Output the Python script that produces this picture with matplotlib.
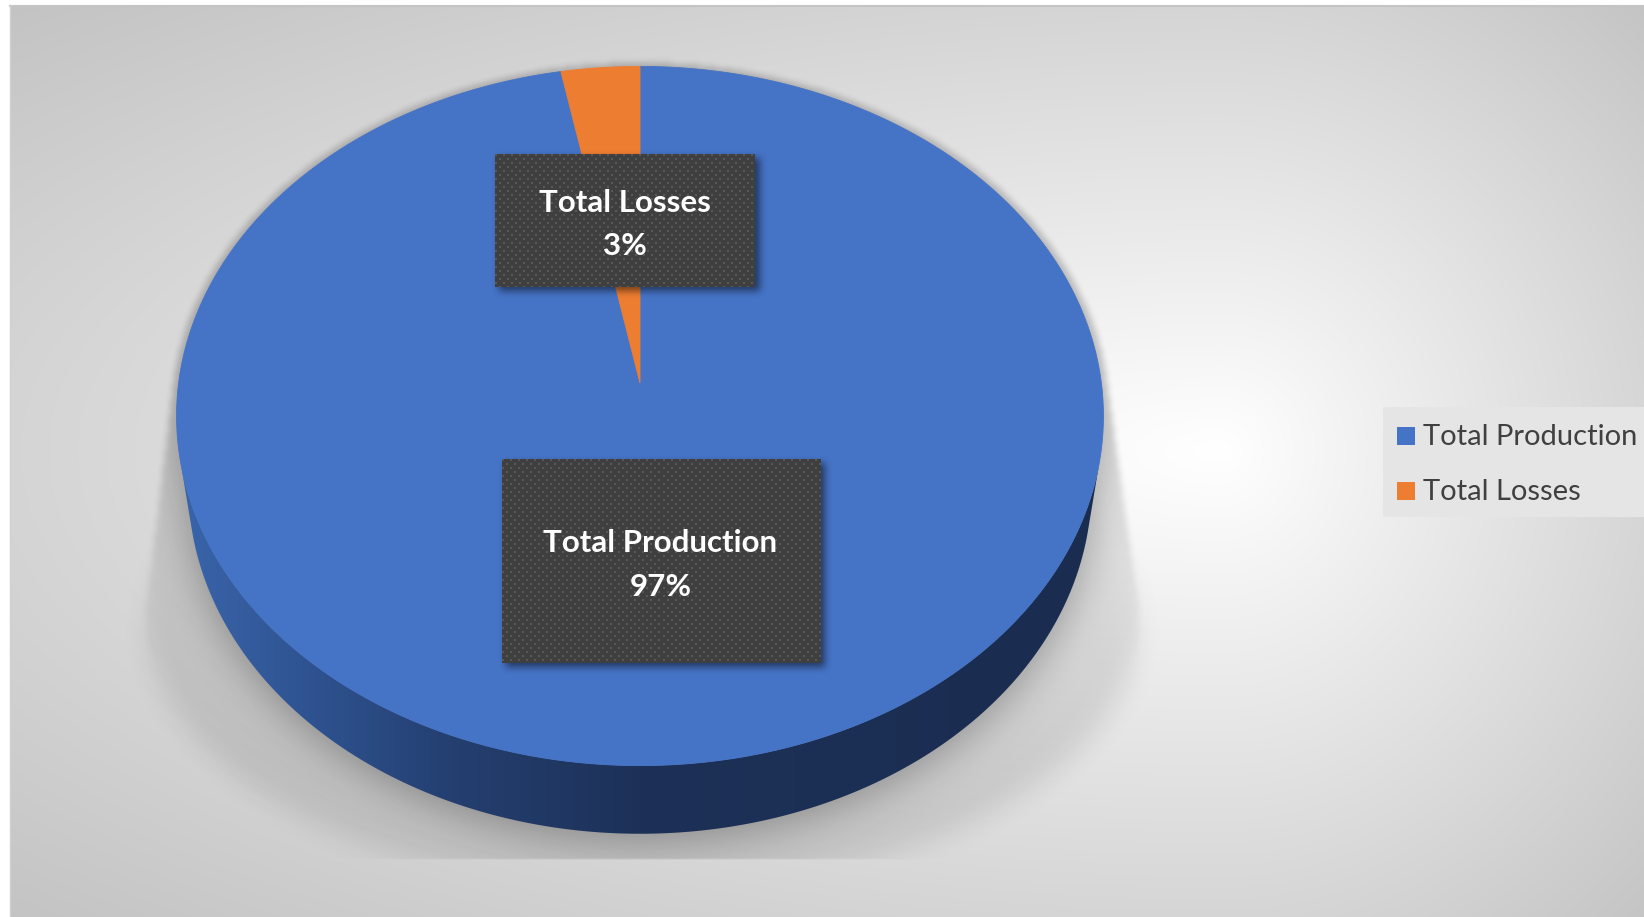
import numpy as np
import matplotlib
matplotlib.use("Agg")
import matplotlib.pyplot as plt
from matplotlib.patches import Polygon, Rectangle
from matplotlib.path import Path

# ---- data ----
labels = ["Total Production", "Total Losses"]
values = [97, 3]
colors = ["#4573C5", "#ED7D31"]

W, H = 1644, 917
FONT = "Lato"

fig = plt.figure(figsize=(W / 100, H / 100), dpi=100)
ax = fig.add_axes([0, 0, 1, 1])
ax.axis("off")


# ---- helpers ----
def box1d(a, r, axis):
    if r < 1:
        return a
    pad = [(0, 0), (0, 0)]
    pad[axis] = (r + 1, r)
    c = np.cumsum(np.pad(a, pad, mode="edge"), axis=axis)
    n = a.shape[axis]
    hi = np.take(c, np.arange(2 * r + 1, 2 * r + 1 + n), axis=axis)
    lo = np.take(c, np.arange(0, n), axis=axis)
    return (hi - lo) / (2 * r + 1)


def blur(a, sigma):
    r = max(1, int(round(sigma)))
    for _ in range(3):
        a = box1d(a, r, 0)
        a = box1d(a, r, 1)
    return a


def hull(pts):
    pts = sorted(map(tuple, pts))

    def cross(o, a, b):
        return (a[0] - o[0]) * (b[1] - o[1]) - (a[1] - o[1]) * (b[0] - o[0])

    lower, upper = [], []
    for p in pts:
        while len(lower) >= 2 and cross(lower[-2], lower[-1], p) <= 0:
            lower.pop()
        lower.append(p)
    for p in reversed(pts):
        while len(upper) >= 2 and cross(upper[-2], upper[-1], p) <= 0:
            upper.pop()
        upper.append(p)
    return np.array(lower[:-1] + upper[:-1])


# ---- chart area background: off-centre radial gradient ----
LEFT, TOP, RIGHT, BOTTOM = 10, 5, 1660, 925
GX, GY = 1220, 450
yy, xx = np.mgrid[TOP:H:1.0, LEFT:W:1.0]
nx = np.where(xx < GX, (GX - xx) / (GX - LEFT), (xx - GX) / (RIGHT - GX))
ny = np.where(yy < GY, (GY - yy) / (GY - TOP), (yy - GY) / (BOTTOM - GY))
rr = np.sqrt(nx ** 2 + ny ** 2) / np.sqrt(2)
g = 1 - 0.235 * np.clip(rr, 0, 1)
ax.imshow(np.dstack([g, g, g]), extent=[LEFT, W, H, TOP],
          interpolation="bilinear", zorder=0)
ax.plot([LEFT, W], [TOP + 0.5, TOP + 0.5], color="#c4c4c4", lw=1.5, zorder=1)
ax.plot([LEFT, LEFT], [TOP, H], color="#d0d0d0", lw=1.0, zorder=1)

# ---- perspective camera for the 3-D disc ----
F = 3225.0
DIST = 6.99
SIN_T, COS_T = 0.751, 0.660
CX, CY = 640.0, 383.0
THICK = 0.241


def project(X, Y, Z):
    depth = DIST + Z * COS_T - Y * SIN_T
    return CX + F * X / depth, CY - F * (Z * SIN_T + Y * COS_T) / depth


def rim(a0, a1, Y=0.0, n=400, R=1.0):
    a = np.linspace(a0, a1, n)
    px, py = project(R * np.sin(a), Y + 0 * a, R * np.cos(a))
    return np.column_stack([px, py])


total = float(sum(values))
fracs = np.array(values) / total
bounds = np.concatenate([[0], np.cumsum(fracs)]) * 2 * np.pi

# visible part of the side wall
a_vis = np.arccos(-1.0 / (DIST * COS_T))
side_top = rim(a_vis, 2 * np.pi - a_vis, 0.0)
side_bot = rim(2 * np.pi - a_vis, a_vis, -THICK)
side_poly = np.vstack([side_top, side_bot])
top_rim = rim(0, 2 * np.pi, 0.0, 800)

# ---- cast shadow ----
ex0, ex1 = top_rim[:, 0].min(), top_rim[:, 0].max()
ey0, ey1 = top_rim[:, 1].min(), top_rim[:, 1].max()
ecx, ecy = (ex0 + ex1) / 2, (ey0 + ey1) / 2
ea, eb = (ex1 - ex0) / 2, (ey1 - ey0) / 2
tt = np.linspace(0, 2 * np.pi, 400)
sh_top = np.column_stack([ecx + 1.012 * ea * np.cos(tt), ecy + 1.012 * eb * np.sin(tt)])
sh_bot = np.column_stack([ecx + 2 + 1.071 * ea * np.cos(tt),
                          ecy + 0.585 * eb + 0.77 * eb * np.sin(tt)])
sh_hull = hull(np.vstack([sh_top, sh_bot]))
PLOT_BOTTOM = 860

gy, gx = np.mgrid[0:H:2, 0:W:2] + 1.0
pts = np.column_stack([gx.ravel(), gy.ravel()])
hm = Path(sh_hull).contains_points(pts).reshape(gx.shape).astype(float)
pm = (Path(top_rim).contains_points(pts) | Path(side_poly).contains_points(pts)).reshape(gx.shape).astype(float)
pm_shift = np.vstack([np.zeros((4, pm.shape[1])), pm[:-4]])
sharp = blur(hm, 0.8)
soft = blur(hm, 6)
tb = np.clip((gy - 540) / 140.0, 0, 1)
m = sharp * (1 - tb) + soft * tb
contact = blur(pm_shift, 9)
alpha = m * (0.10 + 0.26 * contact)
alpha[gy > PLOT_BOTTOM] = 0
shadow = np.zeros(gx.shape + (4,))
shadow[..., 3] = alpha
ax.imshow(shadow, extent=[0, W, H, 0], interpolation="bilinear", zorder=1.5)

# ---- side wall with horizontal shading ----
side_patch = Polygon(side_poly, closed=True, facecolor="none", edgecolor="none", zorder=2)
ax.add_patch(side_patch)
sx = np.arange(0, W, 1.0)
stops_x = [180, 330, 450, 640, 1100]
stops_c = np.array([[0x3a, 0x65, 0xab], [0x2d, 0x50, 0x8c], [0x24, 0x3f, 0x70],
                    [0x1d, 0x31, 0x58], [0x1a, 0x2c, 0x4f]]) / 255.0
grad = np.stack([np.interp(sx, stops_x, stops_c[:, k]) for k in range(3)], axis=-1)
grad_img = np.repeat(grad[None, :, :], 2, axis=0)
sim = ax.imshow(grad_img, extent=[0, W, H, 0], interpolation="bilinear", zorder=2)
sim.set_clip_path(side_patch)

# ---- top face slices ----
for i in range(len(values)):
    arc = rim(bounds[i], bounds[i + 1], 0.0, 600)
    poly = np.vstack([[CX, CY], arc])
    ax.add_patch(Polygon(poly, closed=True, facecolor=colors[i],
                         edgecolor=colors[i], lw=0.6, zorder=3))

# ---- data labels ----
label_centers = [(660.5, 561.0), (625.0, 220.5)]
label_sizes = [(318, 204), (260, 133)]


def dotted(w, h):
    yv, xv = np.mgrid[0:h, 0:w]
    dots = ((yv % 8 < 2) & (xv % 8 < 2)) | ((yv % 8 >= 4) & (yv % 8 < 6) & (xv % 8 >= 4) & (xv % 8 < 6))
    v = np.where(dots, 0x58 / 255.0, 0x3f / 255.0)
    return np.dstack([v, v, v])


for i in range(len(values)):
    cx, cy = label_centers[i]
    w, h = label_sizes[i]
    x0, y0 = cx - w / 2, cy - h / 2
    pad = 24
    sh = np.zeros((h + 2 * pad, w + 2 * pad))
    sh[pad + 4:pad + 4 + h, pad + 4:pad + 4 + w] = 1.0
    sh = blur(sh, 3)
    shimg = np.zeros(sh.shape + (4,))
    shimg[..., 3] = 0.5 * sh
    ax.imshow(shimg, extent=[x0 - pad, x0 + w + pad, y0 + h + pad, y0 - pad],
              interpolation="bilinear", zorder=4)
    ax.imshow(dotted(int(w), int(h)), extent=[x0, x0 + w, y0 + h, y0],
              interpolation="nearest", zorder=5)
    pct = int(round(100 * values[i] / total))
    ax.text(cx, cy - 8.5, labels[i], ha="center", va="baseline", color="white",
            fontsize=22.5, fontweight="bold", family=FONT, zorder=6)
    ax.text(cx, cy + 34.5, f"{pct}%", ha="center", va="baseline", color="white",
            fontsize=22.5, fontweight="bold", family=FONT, zorder=6)

# ---- legend ----
ax.add_patch(Rectangle((1383, 407), W - 1383 + 5, 110, facecolor="#e5e5e5",
                       edgecolor="none", zorder=5))
leg_baselines = [445, 500]
for i in range(len(values)):
    b = leg_baselines[i]
    ax.add_patch(Rectangle((1397, b - 18), 18, 18, facecolor=colors[i],
                           edgecolor="none", zorder=6))
    ax.text(1423, b, labels[i], ha="left", va="baseline", color="#404040",
            fontsize=21, family=FONT, zorder=6)

ax.set_aspect("auto")
ax.set_xlim(0, W)
ax.set_ylim(H, 0)
fig.savefig("out.png", dpi=100, facecolor="white")
